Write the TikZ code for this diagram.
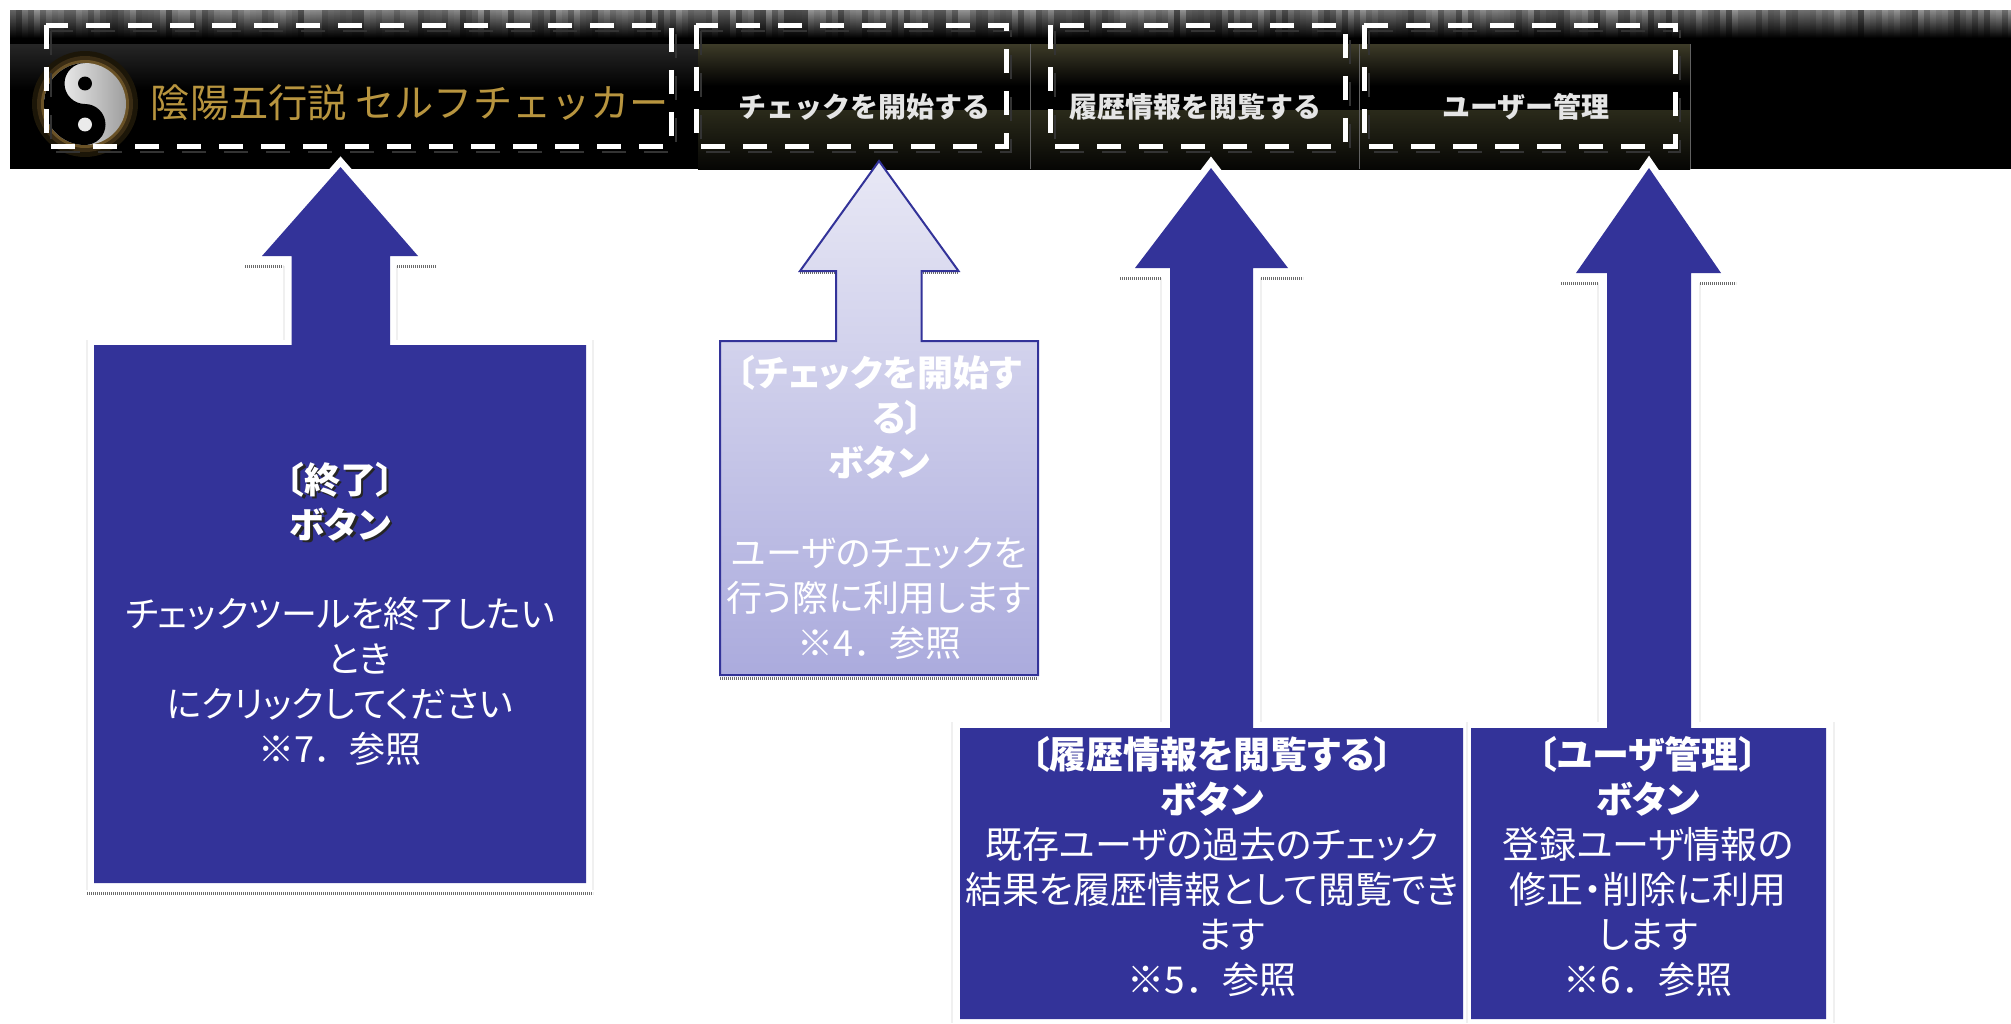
\documentclass[tikz,border=0pt]{standalone}
\usepackage{fontspec}
\newfontfamily\cjk{Noto Sans CJK JP}
\newfontfamily\cjkp[RawFeature=+palt]{Noto Sans CJK JP}
\definecolor{navy}{HTML}{333399}
\definecolor{gold}{HTML}{B8953F}
\definecolor{olive}{HTML}{3D3B28}
\definecolor{oliveb}{HTML}{2A2A1A}
\definecolor{haloa}{HTML}{1C1608}
\definecolor{halob}{HTML}{3A2C14}
\definecolor{haloc}{HTML}{6A5226}
\definecolor{faint}{HTML}{F0F0F0}
\definecolor{LightTop}{HTML}{E8E8F5}
\definecolor{LightBot}{HTML}{ABABDD}
\tikzset{
  callout/.style={fill=navy},
  halotip/.style={draw=white,line width=7pt,miter limit=10},
  lightcallout/.style={draw=navy,line width=1pt,top color=LightTop,bottom color=LightBot},
  dashbox/.style={draw=white,line width=2.5pt,dash pattern=on 12pt off 9pt},
  dashshade/.style={draw=white!20!black,line width=1.4pt,dash pattern=on 12pt off 9pt},
  strip/.style={draw=black!58,line width=1.5pt,dash pattern=on .6pt off .4pt},
  faintline/.style={draw=faint,line width=.7pt},
  sepline/.style={draw=white!38!black,line width=.5pt},
  bodytext/.style={text=white,align=center,inner sep=0pt,font=\cjkp\fontsize{18}{22.5}\selectfont},
  widetext/.style={text=white,align=center,inner sep=0pt,font=\cjkp\fontsize{18.5}{22.5}\selectfont},
  menutext/.style={text=white!90!black,inner sep=0pt,font=\cjk\bfseries\fontsize{14}{16}\selectfont}
}
\newcommand{\noteline}[1]{{\cjk #1}}
\begin{document}
\begin{tikzpicture}[x=0.5pt,y=-0.5pt]
\useasboundingbox (0,0) rectangle (2011,1023);
% banner
\fill[black] (10,10) rectangle (2011,169);
\shade[top color=white!58!black,bottom color=black] (10,10) rectangle (2011,38);
\pgfmathsetseed{11}
\foreach \i in {10,16,...,2006}{
  \pgfmathsetmacro{\op}{rnd*0.5}
  \fill[black,opacity=\op] (\i,10) rectangle ++(6,30);
}
\shade[top color=black!85!white,bottom color=black] (10,44) rectangle (698,90);
\shade[top color=olive,bottom color=black] (698,44) rectangle (1690,86);
\shade[top color=oliveb,bottom color=black!90!olive] (698,110) rectangle (1690,169);
\foreach \xx in {1030,1359,1690}{\draw[sepline] (\xx,44) -- (\xx,169);}
% yin-yang
\fill[haloa] (85,104) circle [radius=53];
\fill[halob] (85,104) circle [radius=48];
\fill[haloc] (85,104) circle [radius=44];
\begin{scope}[shift={(85,104)},x=20.5pt,y=20.5pt]
  \shade[left color=white,right color=white!62!black] (0,0) circle [radius=1];
  \fill[black] (0,1) arc[start angle=90,end angle=270,radius=1]
     arc[start angle=-90,end angle=90,radius=.5]
     arc[start angle=270,end angle=90,radius=.5] -- cycle;
  \fill[white!92!black] (0,-.5) circle [radius=.17];
  \fill[black] (0,.5) circle [radius=.17];
\end{scope}
% banner texts
\node[text=gold,inner sep=0pt,font=\cjk\fontsize{19.6}{22}\selectfont] (title) at (410,103) {陰陽五行説 セルフチェッカー};
\node[menutext] (menu1) at (864,107) {チェックを開始する};
\node[menutext] (menu2) at (1195,107) {履歴情報を閲覧する};
\node[menutext] (menu3) at (1526,107) {ユーザー管理};
% dashed boxes
\foreach \xa/\xb in {46/671,696/1006,1050/1345,1364/1675}{
  \draw[dashshade] (\xa+5,31) rectangle (\xb+5,152);
  \draw[dashbox] (\xa,25) rectangle (\xb,146);
}
% faint outlines and strips
\draw[faintline] (87,340) -- (87,890) (593,340) -- (593,890) (284,266) -- (284,340) (397,266) -- (397,340);
\draw[faintline] (952,722) -- (952,1023) (1467,722) -- (1467,1023) (1834,722) -- (1834,1023);
\draw[faintline] (1161,278) -- (1161,722) (1261,278) -- (1261,722) (1598,283) -- (1598,722) (1700,283) -- (1700,722);
\draw[strip] (245,266) -- (283,266) (397,266) -- (436,266);
\draw[strip] (800,272) -- (837,272) (921,272) -- (958,272);
\draw[strip] (1120,278) -- (1161,278) (1261,278) -- (1303,278);
\draw[strip] (1561,283) -- (1598,283) (1700,283) -- (1736,283);
\draw[strip] (87,893) -- (593,893);
\draw[strip] (720,678) -- (1038,678);
% arrow 1
\path[halotip] (340.5,167) -- (418,256) -- (262,256) -- cycle;
\fill[callout] (340.5,167) -- (418,256) -- (390,256) -- (390,345) -- (586,345) -- (586,883) -- (94,883) -- (94,345) -- (291.5,345) -- (291.5,256) -- (262,256) -- cycle;
% arrow 2
\path[lightcallout] (879,161) -- (958.5,271) -- (921.5,271) -- (921.5,341) -- (1038,341) -- (1038,675) -- (720,675) -- (720,341) -- (836,341) -- (836,271) -- (800,271) -- cycle;
% arrow 3
\path[halotip] (1211,168) -- (1288,268) -- (1135,268) -- cycle;
\fill[callout] (1211,168) -- (1288,268) -- (1253,268) -- (1253,728) -- (1463,728) -- (1463,1019) -- (960,1019) -- (960,728) -- (1170,728) -- (1170,268) -- (1135,268) -- cycle;
% arrow 4
\path[halotip] (1649,168) -- (1721,273) -- (1576,273) -- cycle;
\fill[callout] (1649,168) -- (1721,273) -- (1691,273) -- (1691,728) -- (1826,728) -- (1826,1019) -- (1471,1019) -- (1471,728) -- (1607,728) -- (1607,273) -- (1576,273) -- cycle;
% labels
\node[bodytext,text=black!85,font=\cjkp\bfseries\fontsize{18}{22.5}\selectfont] (shadow1) at (342.5,503.5) {〔終了〕\\ボタン};
\node[bodytext,font=\cjkp\bfseries\fontsize{18}{22.5}\selectfont] (head1) at (340,502) {〔終了〕\\ボタン};
\node[bodytext] (label1) at (340,681) {チェックツールを終了したい\\\hspace*{19pt}とき\\にクリックしてください\\\noteline{※7．参照}};
\node[bodytext] (label2) at (879,507) {{\bfseries 〔チェックを開始す}\\\hspace*{19pt}{\bfseries る〕}\\{\bfseries ボタン}\\\mbox{}\\ユーザのチェックを\\行う際に利用します\\\noteline{※4．参照}};
\node[widetext] (label3) at (1212,867) {{\bfseries 〔履歴情報を閲覧する〕}\\{\bfseries ボタン}\\既存ユーザの過去のチェック\\結果を履歴情報として閲覧でき\\\hspace*{19pt}ます\\\noteline{※5．参照}};
\node[widetext] (label4) at (1648,867) {{\bfseries 〔ユーザ管理〕}\\{\bfseries ボタン}\\登録ユーザ情報の\\修正・削除に利用\\します\\\noteline{※6．参照}};
\end{tikzpicture}
\end{document}
